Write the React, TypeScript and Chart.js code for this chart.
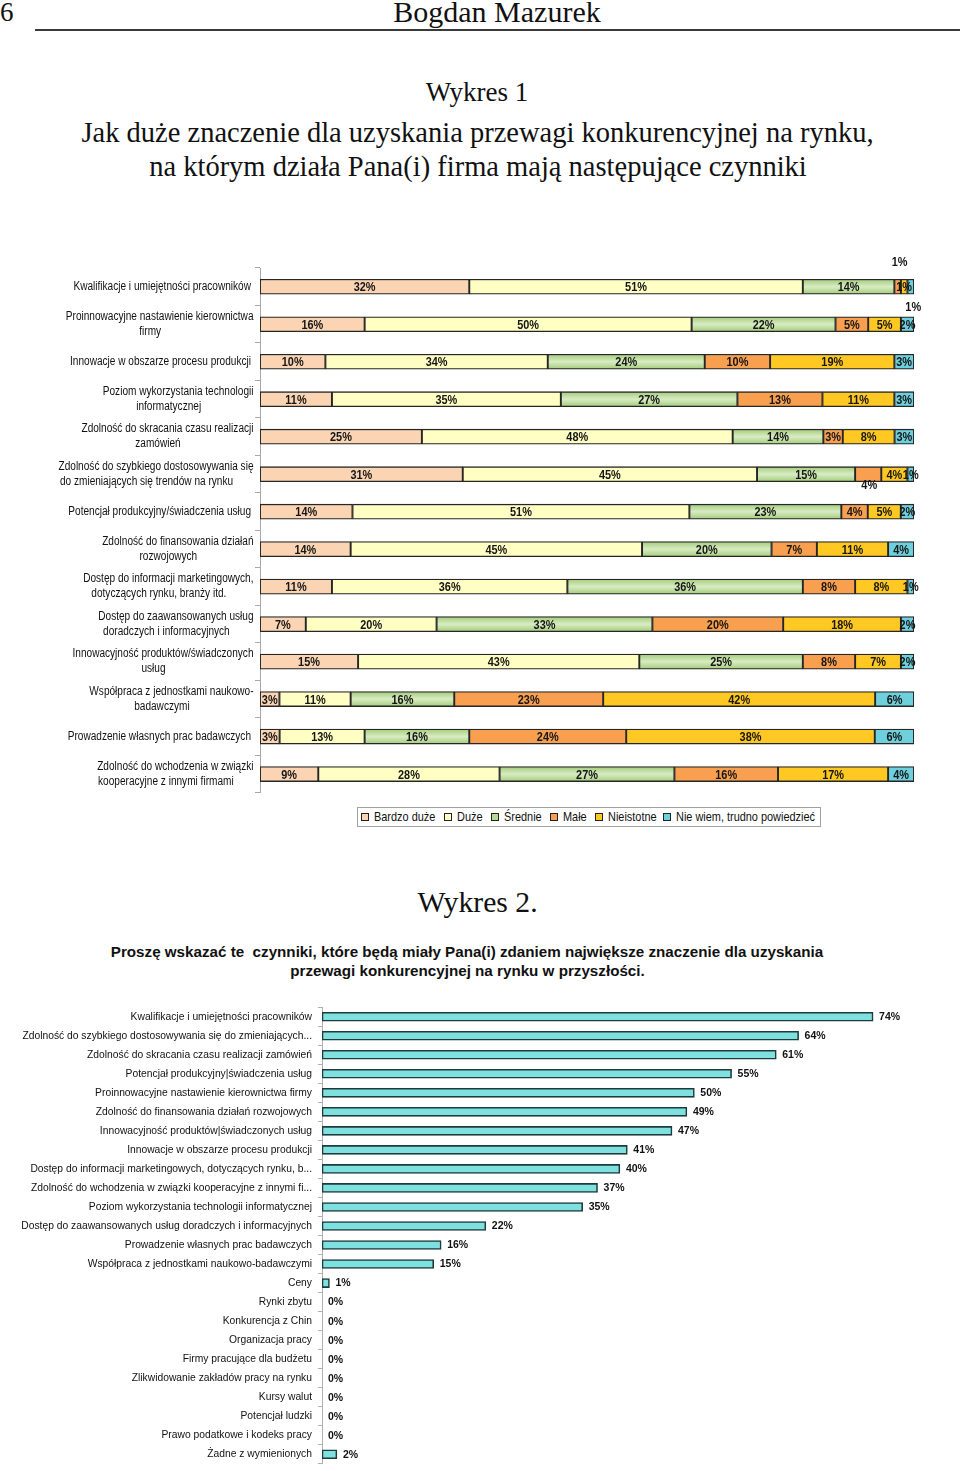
import React, { useEffect, useRef } from "react";
import { Chart, registerables } from "chart.js";

Chart.register(...registerables);

const SANS = '"Liberation Sans", Arial, sans-serif';
const SERIF = '"Liberation Serif", "Times New Roman", serif';
const NARROW_K = 0.84; // horizontal compression to imitate Arial Narrow

// ---------- Wykres 1 data ----------
const factors1: string[][] = [
  ["Kwalifikacje i umiejętności pracowników"],
  ["Proinnowacyjne nastawienie kierownictwa", "firmy"],
  ["Innowacje w obszarze procesu produkcji"],
  ["Poziom wykorzystania technologii", "informatycznej"],
  ["Zdolność do skracania czasu realizacji", "zamówień"],
  ["Zdolność do szybkiego dostosowywania się", "do zmieniających się trendów na rynku"],
  ["Potencjał produkcyjny/świadczenia usług"],
  ["Zdolność do finansowania działań", "rozwojowych"],
  ["Dostęp do informacji marketingowych,", "dotyczących rynku, branży itd."],
  ["Dostęp do zaawansowanych usług", "doradczych i informacyjnych"],
  ["Innowacyjność produktów/świadczonych", "usług"],
  ["Współpraca z jednostkami naukowo-", "badawczymi"],
  ["Prowadzenie własnych prac badawczych"],
  ["Zdolność do wchodzenia w związki", "kooperacyjne z innymi firmami"],
];

const seriesNames = ["Bardzo duże", "Duże", "Średnie", "Małe", "Nieistotne", "Nie wiem, trudno powiedzieć"];
const bardzoDuze = [32, 16, 10, 11, 25, 31, 14, 14, 11, 7, 15, 3, 3, 9];
const duze = [51, 50, 34, 35, 48, 45, 51, 45, 36, 20, 43, 11, 13, 28];
const srednie = [14, 22, 24, 27, 14, 15, 23, 20, 36, 33, 25, 16, 16, 27];
const male = [1, 5, 10, 13, 3, 4, 4, 7, 8, 20, 8, 23, 24, 16];
const nieistotne = [1, 5, 19, 11, 8, 4, 5, 11, 8, 18, 7, 42, 38, 17];
const nieWiem = [1, 2, 3, 3, 3, 1, 2, 4, 1, 2, 2, 6, 6, 4];

const colors1 = ["#FBD5B3", "#FFFFC4", "#B6D990", "#F8A04F", "#FFC822", "#6ECFDD"];

// label displacements for tiny segments (key: dataset-row), as in the original
const labelNudges: Record<string, [number, number]> = {
  "3-0": [2, -25],
  "5-0": [2.5, 20],
  "3-5": [1, 10],
};

// ---------- Wykres 2 data ----------
const factors2 = [
  "Kwalifikacje i umiejętności pracowników",
  "Zdolność do szybkiego dostosowywania się do zmieniających...",
  "Zdolność do skracania czasu realizacji zamówień",
  "Potencjał produkcyjny|świadczenia usług",
  "Proinnowacyjne nastawienie kierownictwa firmy",
  "Zdolność do finansowania działań rozwojowych",
  "Innowacyjność produktów|świadczonych usług",
  "Innowacje w obszarze procesu produkcji",
  "Dostęp do informacji marketingowych, dotyczących rynku, b...",
  "Zdolność do wchodzenia w związki kooperacyjne z innymi fi...",
  "Poziom wykorzystania technologii informatycznej",
  "Dostęp do zaawansowanych usług doradczych i informacyjnych",
  "Prowadzenie własnych prac badawczych",
  "Współpraca z jednostkami naukowo-badawczymi",
  "Ceny",
  "Rynki zbytu",
  "Konkurencja z Chin",
  "Organizacja pracy",
  "Firmy pracujące dla budżetu",
  "Zlikwidowanie zakładów pracy na rynku",
  "Kursy walut",
  "Potencjał ludzki",
  "Prawo podatkowe i kodeks pracy",
  "Żadne z wymienionych",
];
const shares2 = [74, 64, 61, 55, 50, 49, 47, 41, 40, 37, 35, 22, 16, 15, 1, 0, 0, 0, 0, 0, 0, 0, 0, 2];

function greenFill(c: any) {
  const chart = c.chart;
  const ys = chart.scales && chart.scales.y;
  if (!ys || c.type !== "data") return colors1[2];
  const cy = ys.getPixelForValue(c.dataIndex);
  if (!isFinite(cy)) return colors1[2];
  const g = chart.ctx.createLinearGradient(0, cy - 7.5, 0, cy + 7.5);
  g.addColorStop(0, "#A3CC7A");
  g.addColorStop(0.5, "#D8ECC3");
  g.addColorStop(1, "#A3CC7A");
  return g;
}

function narrowText(ctx: CanvasRenderingContext2D, text: string, x: number, y: number) {
  const w = ctx.measureText(text).width;
  ctx.fillText(text, x, y, w * NARROW_K);
}

const chart1Plugin = {
  id: "c1labels",
  afterDatasetsDraw(chart: any) {
    const ctx = chart.ctx;
    ctx.save();
    ctx.font = `bold 13px ${SANS}`;
    ctx.fillStyle = "#151515";
    ctx.textAlign = "center";
    ctx.textBaseline = "middle";
    chart.data.datasets.forEach((ds: any, di: number) => {
      const meta = chart.getDatasetMeta(di);
      meta.data.forEach((el: any, i: number) => {
        const v = ds.raw[i];
        const p = el.getProps(["x", "y", "base"], true);
        const nd = labelNudges[`${di}-${i}`] || [0, 0];
        narrowText(ctx, v + "%", (p.x + p.base) / 2 + nd[0], p.y + 1 + nd[1]);
      });
    });
    ctx.restore();
  },
  afterDraw(chart: any) {
    const ctx = chart.ctx;
    const ys = chart.scales.y;
    ctx.save();
    ctx.font = `12px ${SANS}`;
    ctx.fillStyle = "#111";
    ctx.textBaseline = "middle";
    ctx.textAlign = "center";
    const lh = 15;
    factors1.forEach((lines, i) => {
      const cy = ys.getPixelForValue(i);
      const right = lines.length > 1 ? 253.5 : 251;
      const w0 = ctx.measureText(lines[0]).width * NARROW_K;
      const c0 = right - w0 / 2;
      const top = cy - ((lines.length - 1) * lh) / 2;
      lines.forEach((ln, k) => {
        narrowText(ctx, ln, k === 0 ? c0 : c0 - 9.5, top + k * lh);
      });
    });
    ctx.restore();
  },
};

const chart2Plugin = {
  id: "c2labels",
  afterDatasetsDraw(chart: any) {
    const ctx = chart.ctx;
    ctx.save();
    ctx.font = `bold 10.5px ${SANS}`;
    ctx.fillStyle = "#111";
    ctx.textAlign = "left";
    ctx.textBaseline = "middle";
    const meta = chart.getDatasetMeta(0);
    const ds = chart.data.datasets[0];
    meta.data.forEach((el: any, i: number) => {
      const p = el.getProps(["x", "y"], true);
      ctx.fillText(ds.data[i] + "%", p.x + 6, p.y + 0.5);
    });
    ctx.restore();
  },
  afterDraw(chart: any) {
    const ctx = chart.ctx;
    const ys = chart.scales.y;
    ctx.save();
    ctx.font = `10.3px ${SANS}`;
    ctx.fillStyle = "#111";
    ctx.textAlign = "right";
    ctx.textBaseline = "middle";
    factors2.forEach((lbl, i) => {
      ctx.fillText(lbl, 312, ys.getPixelForValue(i));
    });
    ctx.restore();
  },
};

function StackedChart() {
  const ref = useRef<HTMLCanvasElement>(null);
  useEffect(() => {
    if (!ref.current) return;
    const seriesData = [bardzoDuze, duze, srednie, male, nieistotne, nieWiem];
    // 100% stacked: each row is scaled to its own total, labels keep the read values
    const rowTotals = factors1.map((_, r) => seriesData.reduce((s, d) => s + d[r], 0));
    const chart = new Chart(ref.current, {
      type: "bar",
      data: {
        labels: factors1.map((l) => l.join(" ")),
        datasets: seriesData.map((d, i) => ({
          label: seriesNames[i],
          data: d.map((v, r) => (v / rowTotals[r]) * 100),
          raw: d,
          backgroundColor: i === 2 ? greenFill : colors1[i],
          borderColor: "#262626",
          borderWidth: 1.3,
          borderSkipped: false,
          barThickness: 15,
        })) as any,
      },
      options: {
        indexAxis: "y",
        animation: false,
        responsive: false,
        maintainAspectRatio: false,
        events: [],
        layout: { padding: { top: 13, bottom: 6, right: 46, left: 0 } },
        plugins: { legend: { display: false }, tooltip: { enabled: false } },
        scales: {
          x: { stacked: true, min: 0, max: 100, display: false },
          y: {
            stacked: true,
            grid: { offset: true, drawOnChartArea: false, drawTicks: true, tickLength: 5, color: "#A8A8A8" },
            border: { display: true, color: "#A8A8A8", width: 1 },
            ticks: { callback: () => "", padding: 0 },
            afterFit: (s: any) => {
              s.width = 260;
            },
          },
        },
      } as any,
      plugins: [chart1Plugin],
    });
    return () => chart.destroy();
  }, []);
  return <canvas ref={ref} width={960} height={545} style={{ position: "absolute", left: 0, top: 255, width: 960, height: 545 }} />;
}

function FutureChart() {
  const ref = useRef<HTMLCanvasElement>(null);
  useEffect(() => {
    if (!ref.current) return;
    const chart = new Chart(ref.current, {
      type: "bar",
      data: {
        labels: factors2,
        datasets: [
          {
            label: "Udział",
            data: shares2,
            backgroundColor: "#7FE0E0",
            borderColor: "#1E3A3A",
            borderWidth: 1.6,
            borderSkipped: false,
            barThickness: 9,
          },
        ],
      },
      options: {
        indexAxis: "y",
        animation: false,
        responsive: false,
        maintainAspectRatio: false,
        events: [],
        layout: { padding: { top: 4, bottom: 2, right: 5, left: 0 } },
        plugins: { legend: { display: false }, tooltip: { enabled: false } },
        scales: {
          x: { min: 0, max: 85, display: false },
          y: {
            grid: { offset: true, drawOnChartArea: false, drawTicks: true, tickLength: 4, color: "#B0B0B0" },
            border: { display: true, color: "#B0B0B0", width: 1 },
            ticks: { callback: () => "", padding: 0 },
            afterFit: (s: any) => {
              s.width = 322;
            },
          },
        },
      } as any,
      plugins: [chart2Plugin],
    });
    return () => chart.destroy();
  }, []);
  return <canvas ref={ref} width={960} height={471} style={{ position: "absolute", left: 0, top: 1000, width: 960, height: 471 }} />;
}

function Txt(props: { cx: number; baseline: number; size: number; family: string; bold?: boolean; children: any; left?: number }) {
  const { cx, baseline, size, family, bold } = props;
  const k = family === SERIF ? 0.8375 : 0.8465;
  const top = baseline - k * size;
  const style: any = {
    position: "absolute",
    top,
    height: size,
    lineHeight: `${size}px`,
    fontSize: size,
    fontFamily: family,
    fontWeight: bold ? 700 : 400,
    color: "#111",
    whiteSpace: "pre",
  };
  if (props.left !== undefined) {
    style.left = props.left;
  } else {
    style.left = cx - 500;
    style.width = 1000;
    style.textAlign = "center";
  }
  return <div style={style}>{props.children}</div>;
}

const legendItemX = [361, 444, 491, 550, 595, 663];

function Legend() {
  return (
    <div
      style={{
        position: "absolute",
        left: 357,
        top: 807,
        width: 464,
        height: 20,
        boxSizing: "border-box",
        border: "1px solid #A0A0A0",
      }}
    >
      {seriesNames.map((n, i) => (
        <React.Fragment key={n}>
          <div
            style={{
              position: "absolute",
              left: legendItemX[i] - 358,
              top: 4.5,
              width: 8,
              height: 8,
              boxSizing: "border-box",
              border: "1px solid #222",
              background: colors1[i],
            }}
          />
          <div
            style={{
              position: "absolute",
              left: legendItemX[i] - 358 + 13,
              top: 0,
              height: 18,
              lineHeight: "18px",
              fontFamily: SANS,
              fontSize: 13,
              color: "#111",
              whiteSpace: "nowrap",
              transform: `scaleX(${NARROW_K})`,
              transformOrigin: "left center",
            }}
          >
            {n}
          </div>
        </React.Fragment>
      ))}
    </div>
  );
}

export default function App() {
  return (
    <div style={{ position: "absolute", left: 0, top: 0, width: 960, height: 1471, background: "#fff", overflow: "hidden" }}>
      <Txt cx={6} baseline={22} size={27} family={SERIF} left={0}>6</Txt>
      <Txt cx={497} baseline={22} size={30} family={SERIF}>Bogdan Mazurek</Txt>
      <div style={{ position: "absolute", left: 35, top: 29, width: 925, height: 0, borderTop: "2px solid #3a3a3a" }} />
      <Txt cx={477} baseline={102} size={27} family={SERIF}>Wykres 1</Txt>
      <Txt cx={477.5} baseline={142.5} size={28.5} family={SERIF}>Jak duże znaczenie dla uzyskania przewagi konkurencyjnej na rynku,</Txt>
      <Txt cx={478} baseline={176.5} size={28.5} family={SERIF}>na którym działa Pana(i) firma mają następujące czynniki</Txt>
      <StackedChart />
      <Legend />
      <Txt cx={477.5} baseline={913} size={29.7} family={SERIF}>Wykres 2.</Txt>
      <Txt cx={467} baseline={957} size={15.2} family={SANS} bold>Proszę wskazać te  czynniki, które będą miały Pana(i) zdaniem największe znaczenie dla uzyskania</Txt>
      <Txt cx={467.5} baseline={976} size={15.2} family={SANS} bold>przewagi konkurencyjnej na rynku w przyszłości.</Txt>
      <FutureChart />
    </div>
  );
}
